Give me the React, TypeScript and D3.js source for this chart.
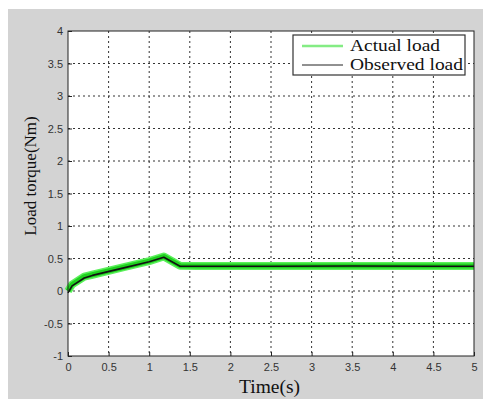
import { useRef, useEffect } from 'react';
import * as d3 from 'd3';

// time (s) / load torque (Nm)
var TIME = [0, 0.05, 0.2, 0.3, 0.7, 1.0, 1.18, 1.38, 1.6, 2.5, 3.5, 4.5, 5];
var ACTUAL = [0.0, 0.1, 0.22, 0.25, 0.37, 0.46, 0.53, 0.39, 0.385, 0.385, 0.385, 0.385, 0.385];
var OBSERVED = [-0.03, 0.08, 0.2, 0.24, 0.36, 0.45, 0.52, 0.38, 0.38, 0.38, 0.385, 0.38, 0.38];
var X_TICKS = [0, 0.5, 1, 1.5, 2, 2.5, 3, 3.5, 4, 4.5, 5];
var Y_TICKS = [-1, -0.5, 0, 0.5, 1, 1.5, 2, 2.5, 3, 3.5, 4];
var LEGEND = [
  { label: 'Actual load', color: '#33e033', width: 2.5, len: 90 },
  { label: 'Observed load', color: '#222', width: 1, len: 113 }
];

export default function App() {
  var svgRef = useRef(null);

  useEffect(function () {
    var svg = d3.select(svgRef.current);
    svg.selectAll('*').remove();

    var W = 483, H = 399;
    var left = 68, right = 474, top = 31, bottom = 356;
    var sans = 'Arial, "Liberation Sans", sans-serif';
    var serif = '"Times New Roman", "Liberation Serif", serif';

    svg.append('rect').attr('x', 8).attr('y', 9).attr('width', W - 8).attr('height', H - 9).attr('fill', '#d3d3d3');

    var x = d3.scaleLinear().domain([0, 5]).range([left, right]);
    var y = d3.scaleLinear().domain([-1, 4]).range([bottom, top]);

    svg.append('rect').attr('x', left).attr('y', top).attr('width', right - left).attr('height', bottom - top).attr('fill', '#fff');

    // Grid lines
    var grid = svg.append('g').attr('stroke', '#333').attr('stroke-width', 1).attr('stroke-dasharray', '2,3');
    X_TICKS.slice(1, -1).forEach(function (t) {
      grid.append('line').attr('x1', x(t)).attr('x2', x(t)).attr('y1', top).attr('y2', bottom);
    });
    Y_TICKS.slice(1, -1).forEach(function (t) {
      grid.append('line').attr('x1', left).attr('x2', right).attr('y1', y(t)).attr('y2', y(t));
    });

    // Axes
    var fmt = function (d) { return String(d); };
    var xAxis = svg.append('g').attr('transform', 'translate(0,' + bottom + ')')
      .call(d3.axisBottom(x).tickValues(X_TICKS).tickSize(-4).tickPadding(7).tickFormat(fmt));
    var yAxis = svg.append('g').attr('transform', 'translate(' + left + ',0)')
      .call(d3.axisLeft(y).tickValues(Y_TICKS).tickSize(-4).tickPadding(5).tickFormat(fmt));
    [xAxis, yAxis].forEach(function (a) {
      a.select('.domain').remove();
      a.selectAll('line').attr('stroke', '#222');
      a.selectAll('text').attr('font-family', sans).attr('font-size', '11px').attr('fill', '#333');
    });

    // Series
    var line = d3.line().x(function (d) { return x(d[0]); }).y(function (d) { return y(d[1]); });
    var actual = TIME.map(function (t, i) { return [t, ACTUAL[i]]; });
    var observed = TIME.map(function (t, i) { return [t, OBSERVED[i]]; });
    svg.append('path').datum(actual).attr('d', line).attr('fill', 'none')
      .attr('stroke', '#5cf05c').attr('stroke-width', 8).attr('stroke-linejoin', 'round');
    svg.append('path').datum(actual).attr('d', line).attr('fill', 'none')
      .attr('stroke', '#1fd01f').attr('stroke-width', 5).attr('stroke-linejoin', 'round');
    svg.append('path').datum(observed).attr('d', line).attr('fill', 'none')
      .attr('stroke', '#111').attr('stroke-width', 1.6).attr('stroke-linejoin', 'round');

    // Frame
    svg.append('rect').attr('x', left).attr('y', top).attr('width', right - left).attr('height', bottom - top)
      .attr('fill', 'none').attr('stroke', '#222').attr('stroke-width', 1);

    // Legend
    var lg = svg.append('g');
    lg.append('rect').attr('x', 293).attr('y', 35).attr('width', 172).attr('height', 40)
      .attr('fill', '#fff').attr('stroke', '#333').attr('stroke-width', 1.2);
    LEGEND.forEach(function (d, i) {
      var ly = 46 + i * 19;
      lg.append('line').attr('x1', 302).attr('x2', 343).attr('y1', ly).attr('y2', ly)
        .attr('stroke', d.color).attr('stroke-width', d.width).attr('opacity', i === 0 ? 0.6 : 1);
      lg.append('text').attr('x', 350).attr('y', ly + 5).attr('font-family', serif)
        .attr('font-size', '17px').attr('fill', '#111')
        .attr('textLength', d.len).attr('lengthAdjust', 'spacingAndGlyphs').text(d.label);
    });

    // Axis titles
    svg.append('text').attr('x', 239).attr('y', 393)
      .attr('textLength', 61).attr('lengthAdjust', 'spacingAndGlyphs')
      .attr('font-family', serif).attr('font-size', '18px').attr('fill', '#111').text('Time(s)');
    svg.append('text').attr('transform', 'translate(36,176) rotate(-90)')
      .attr('text-anchor', 'middle').attr('font-family', serif).attr('font-size', '17px').attr('fill', '#111')
      .text('Load torque(Nm)');
  }, []);

  return (
    <svg ref={svgRef} width={483} height={399} style={{ position: 'absolute', left: 0, top: 0 }} />
  );
}
